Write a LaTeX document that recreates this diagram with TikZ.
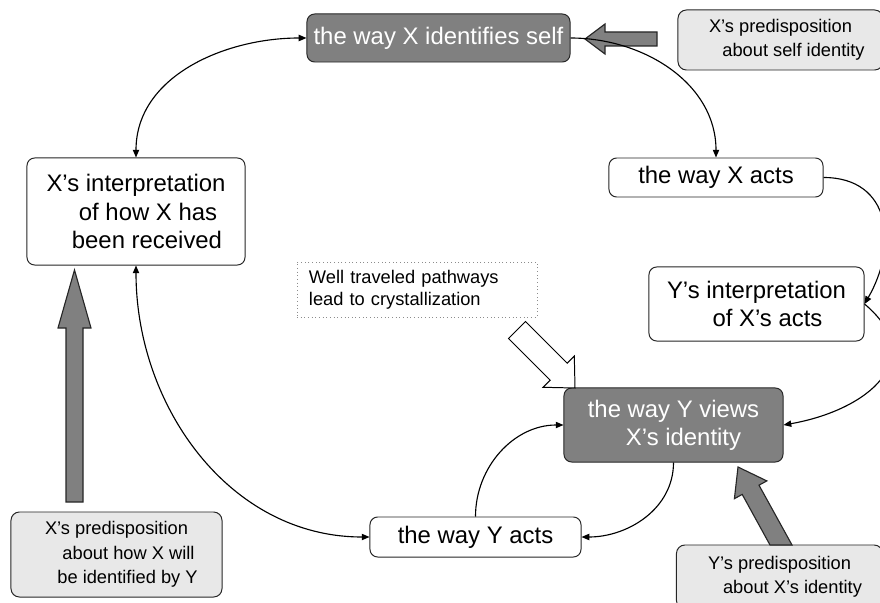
\documentclass[tikz,border=0pt]{standalone}
\usepackage{fontspec}
\setmainfont{Liberation Sans}
\definecolor{idgray}{RGB}{128, 128, 128}
\definecolor{predgray}{RGB}{232, 232, 232}
\usetikzlibrary{arrows.meta, positioning}

\tikzset{
  plainbox/.style={draw=black!85, fill=white, rounded corners=5.5pt, align=center, inner sep=0pt, line width=0.7pt, font=\fontsize{17}{20}\selectfont},
  idbox/.style={plainbox, fill=idgray, text=white},
  predbox/.style={draw=black!85, fill=predgray, rounded corners=6pt, align=center, inner sep=0pt, line width=0.7pt, font=\fontsize{13}{17.4}\selectfont},
  notebox/.style={draw=black!45, dotted, line width=0.6pt, align=left, inner sep=0pt, text width=5.4cm, font=\fontsize{13}{15.5}\selectfont},
  link/.style={-{Triangle[length=5.5pt, width=4.5pt]}, line width=0.8pt},
  twoway/.style={{Triangle[length=5.5pt, width=4.5pt]}-{Triangle[length=5.5pt, width=4.5pt]}, line width=0.8pt},
  bigarrow/.style={draw=black!85, fill=idgray, line width=0.8pt, line join=miter},
  hollowarrow/.style={draw=black, fill=white, line width=0.7pt, line join=miter}
}

\begin{document}
\begin{tikzpicture}[x=0.025cm, y=0.025cm]
  \useasboundingbox (0,0) rectangle (880,-603);

  % Identity boxes
  \node[idbox, minimum width=6.575cm, minimum height=1.2cm] (selfid) at (438.5,-38) {the way X identifies self};
  \node[idbox, minimum width=5.475cm, minimum height=1.85cm] (yviews) at (673.5,-425) {the way Y views\\\hspace*{0.5cm}X's identity};

  % Acts and interpretations
  \node[plainbox, minimum width=5.35cm, minimum height=0.975cm] (xacts) at (716,-177.5) {the way X acts};
  \node[plainbox, minimum width=5.375cm, minimum height=1.85cm] (yinterp) at (756.5,-304) {Y's interpretation\\\hspace*{0.55cm}of X's acts};
  \node[plainbox, minimum width=5.275cm, minimum height=1.0cm] (yacts) at (475.5,-537) {the way Y acts};
  \node[plainbox, minimum width=5.45cm, minimum height=2.675cm] (xinterp) at (136,-211.5) {X's interpretation\\\hspace*{0.6cm}of how X has\\\hspace*{0.55cm}been received};

  % Predispositions
  \node[predbox, minimum width=5.125cm, minimum height=1.5cm] (predself) at (780.5,-40) {X's predisposition\\\hspace*{0.65cm}about self identity};
  \node[predbox, minimum width=5.275cm, minimum height=2.125cm] (predleft) at (116.5,-554.5) {X's predisposition\\\hspace*{0.6cm}about how X will\\\hspace*{0.55cm}be identified by Y};
  \node[predbox, minimum width=5.15cm, minimum height=1.6cm] (predright) at (779.5,-577) {Y's predisposition\\\hspace*{0.65cm}about X's identity};

  \node[notebox, minimum width=6cm, minimum height=1.375cm] (note) at (417,-289.5) {Well traveled pathways\\lead to crystallization};

  % Big arrows
  \draw[bigarrow] (657,-32) -- (605,-32) -- (605,-24) -- (585,-39) -- (605,-54) -- (605,-46) -- (657,-46) -- cycle;
  \draw[bigarrow] (66,-502) -- (66,-328) -- (58,-328) -- (74.5,-270) -- (91,-328) -- (83,-328) -- (83,-502) -- cycle;
  \draw[bigarrow] (770,-545) -- (742.2,-494.4) -- (734.4,-498.7) -- (738,-467) -- (766.8,-480.9) -- (759,-485.2) -- (792,-545) -- cycle;
  \draw[hollowarrow] (508.5,-338.5) -- (550.2,-380.2) -- (543.1,-387.3) -- (575,-388) -- (574.3,-356.1) -- (567.2,-363.2) -- (525.5,-321.5) -- cycle;

  % Cycle
  \draw[twoway] (xinterp.north) to[out=90, in=180] (selfid.west);
  \draw[link] (selfid.east) to[out=0, in=90] (xacts.north);
  \draw[link] (xacts.east) to[out=0, in=60, looseness=1.3] (yinterp.east);
  \draw[link] (yinterp.east) to[out=-40, in=10, looseness=1.5] (yviews.east);
  \draw[link] (yviews.south) to[out=-90, in=0] (yacts.east);
  \draw[link] (yacts.north) to[out=90, in=180] (yviews.west);
  \draw[twoway] (xinterp.south) to[out=-90, in=180] (yacts.west);
\end{tikzpicture}
\end{document}
